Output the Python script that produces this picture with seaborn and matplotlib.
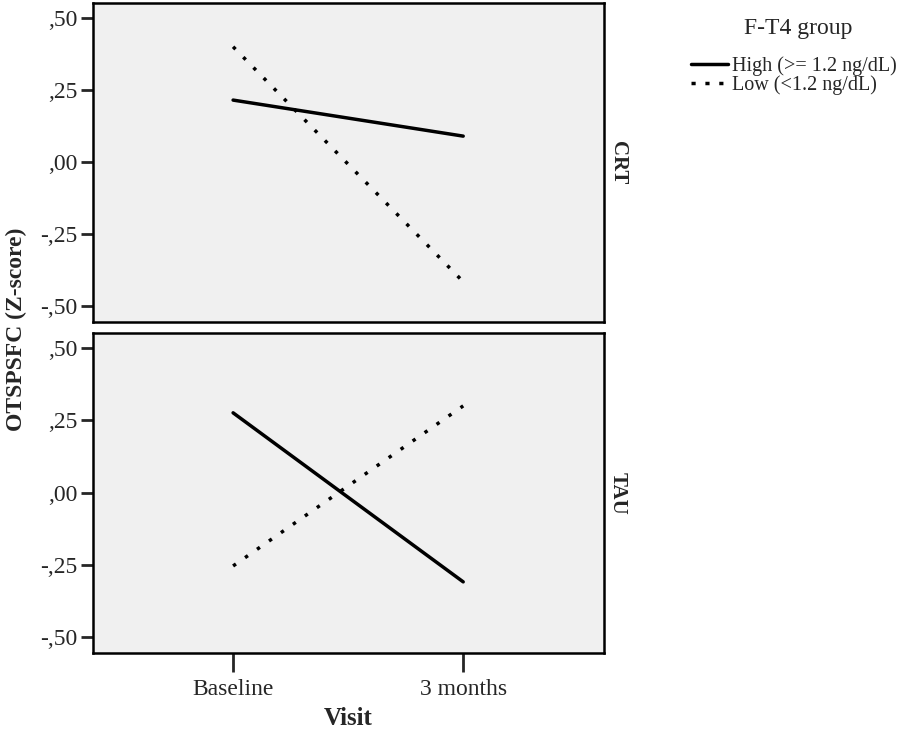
import pandas as pd
import matplotlib.pyplot as plt
import seaborn as sns
from matplotlib.lines import Line2D

# Values
visits = ['Baseline', '3 months']
arms = ['CRT', 'TAU']
groups = ['High (>= 1.2 ng/dL)', 'Low (<1.2 ng/dL)']
crt_high = [0.215, 0.090]
crt_low = [0.400, -0.415]
tau_high = [0.276, -0.309]
tau_low = [-0.254, 0.300]
ytick_values = [0.5, 0.25, 0.0, -0.25, -0.5]
ytick_labels = [',50', ',25', ',00', '-,25', '-,50']

rows = []
for arm, high, low in [('CRT', crt_high, crt_low), ('TAU', tau_high, tau_low)]:
    for v, h, l in zip(visits, high, low):
        rows.append({'arm': arm, 'visit': v, 'group': groups[0], 'z': h})
        rows.append({'arm': arm, 'visit': v, 'group': groups[1], 'z': l})
df = pd.DataFrame(rows)

sns.set_style('white')
plt.rcParams['font.family'] = ['Liberation Serif', 'DejaVu Serif']

fig = plt.figure(figsize=(9.09, 7.32), dpi=100)
ax_top = fig.add_axes([0.102, 0.560, 0.562, 0.436])
ax_bot = fig.add_axes([0.102, 0.108, 0.562, 0.437])

dotted = (0, (1, 3.2))
for ax, arm in zip([ax_top, ax_bot], arms):
    sub = df[df['arm'] == arm]
    sns.lineplot(data=sub, x='visit', y='z', style='group', style_order=groups,
                 dashes=False, color='black', linewidth=2.5, ax=ax, legend=False)
    ax.lines[1].set_linestyle(dotted)
    ax.set_facecolor('#f0f0f0')
    ax.set_xlim(-0.61, 1.61)
    ax.set_ylim(-0.555, 0.552)
    ax.set_yticks(ytick_values)
    ax.set_yticklabels(ytick_labels)
    ax.tick_params(axis='y', length=9, width=2, labelsize=17, pad=2, left=True)
    ax.tick_params(axis='x', length=14, width=2, labelsize=17, pad=5, bottom=True)
    for sp in ax.spines.values():
        sp.set_visible(True)
        sp.set_linewidth(1.8)
        sp.set_color('black')
    ax.set_xlabel('')
    ax.set_ylabel('')
    ax.text(1.028, 0.5, arm, transform=ax.transAxes, rotation=-90,
            ha='center', va='center', fontsize=15, fontweight='bold')

ax_top.tick_params(axis='x', bottom=False, labelbottom=False)

fig.text(0.383, 0.018, 'Visit', ha='center', va='center', fontsize=18, fontweight='bold')
fig.text(0.018, 0.55, 'OTSPSFC (Z-score)', ha='center', va='center', rotation=90,
         fontsize=17, fontweight='bold')

# legend title drawn separately so the entry rows can stay tight
fig.text(0.878, 0.961, 'F-T4 group', ha='center', va='center', fontsize=17)
handles = [Line2D([0], [0], color='black', linewidth=2.5, linestyle='-'),
           Line2D([0], [0], color='black', linewidth=2.5, linestyle=(0, (1.2, 2.8)))]
fig.legend(handles, groups, loc='upper left', bbox_to_anchor=(0.745, 0.943),
           frameon=False, fontsize=14.5, handlelength=1.8, handletextpad=0.2,
           labelspacing=0.0, borderpad=0.2)

fig.savefig('out.png', dpi=100)
